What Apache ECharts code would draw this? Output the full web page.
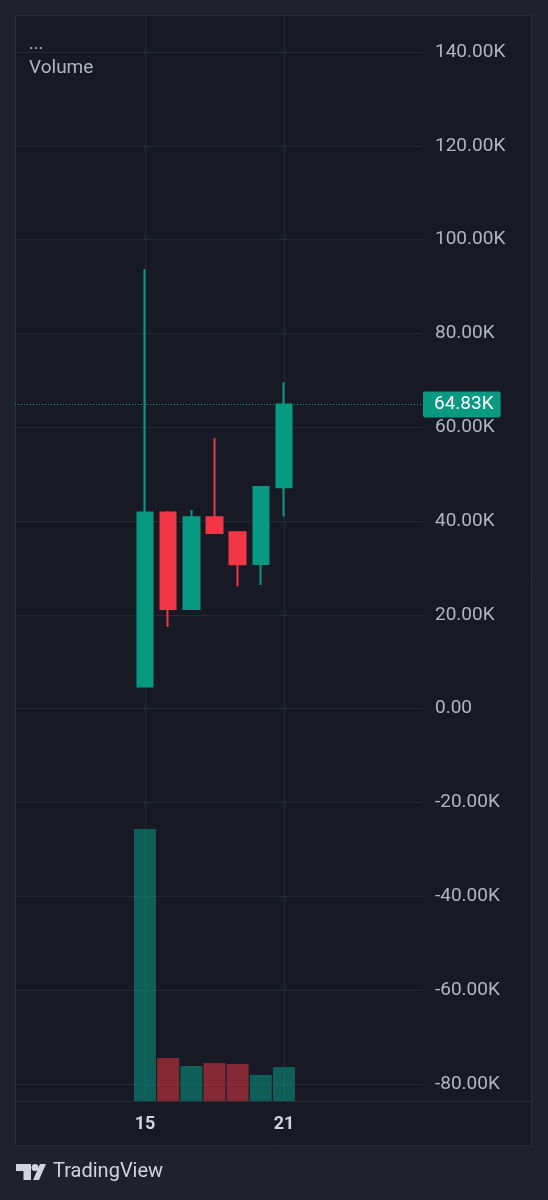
<!DOCTYPE html>
<html>
<head>
<meta charset="utf-8">
<script src="https://cdn.jsdelivr.net/npm/echarts@6/dist/echarts.min.js"></script>
<style>
  html, body { margin: 0; padding: 0; background: #1f222d; }
  #chart { width: 548px; height: 1200px; }
</style>
</head>
<body>
<div id="chart"></div>
<script>
// days of the month for each candle
const days = [15, 16, 17, 18, 19, 20, 21]
// OHLC in thousands
const opens  = [4.75, 41.85, 21.25, 40.8, 37.6, 30.85, 47.2]
const closes = [41.85, 21.25, 40.8, 37.45, 30.8, 47.25, 64.83]
const lows   = [4.75, 17.4, 21.25, 37.45, 26.1, 26.4, 41.0]
const highs  = [93.7, 42.15, 42.35, 57.7, 37.6, 47.25, 69.6]
// volume (arbitrary units)
const volumes = [27.2, 4.3, 3.5, 3.8, 3.7, 2.6, 3.4]
const timeLabels = [15, 21]
const lastPrice = 64.83

const UP = '#089981'
const DOWN = '#f23645'
const UP_VOL = 'rgba(8,153,129,0.55)'
const DOWN_VOL = 'rgba(242,54,69,0.5)'
const FONT = 'Roboto, "Noto Sans", sans-serif'

const candleData = days.map((d, i) => [d, opens[i], closes[i], lows[i], highs[i]])
const volumeData = days.map((d, i) => ({
  value: [d, volumes[i]],
  itemStyle: { color: closes[i] >= opens[i] ? UP_VOL : DOWN_VOL },
}))

const chart = echarts.init(document.getElementById('chart'), null, { renderer: 'canvas' })

chart.setOption({
  backgroundColor: '#1f222d',
  animation: false,
  textStyle: { fontFamily: FONT },
  graphic: [
    {
      type: 'rect', z: -10, silent: true,
      shape: { x: 15.5, y: 15.5, width: 516, height: 1130 },
      style: { fill: '#171a24', stroke: '#2a2e39', lineWidth: 1 },
    },
    {
      type: 'line', z: 1, silent: true,
      shape: { x1: 15, y1: 1101.5, x2: 532, y2: 1101.5 },
      style: { stroke: '#2a2e39', lineWidth: 1 },
    },
    {
      type: 'text', left: 29, top: 35,
      style: { text: '...', fill: '#b2b5be', font: '18px ' + FONT },
    },
    {
      type: 'text', left: 29, top: 59,
      style: { text: 'Volume', fill: '#b2b5be', font: '19px ' + FONT },
    },
    // TradingView logo
    {
      type: 'group', left: 16, top: 1164,
      children: [
        { type: 'rect', shape: { x: 0, y: 0, width: 15, height: 7 }, style: { fill: '#d1d4dc' } },
        { type: 'rect', shape: { x: 7.5, y: 0, width: 7.5, height: 16 }, style: { fill: '#d1d4dc' } },
        { type: 'circle', shape: { cx: 19, cy: 3.5, r: 3.5 }, style: { fill: '#d1d4dc' } },
        { type: 'polygon', shape: { points: [[24, 0], [30, 0], [23, 16], [17, 16]] }, style: { fill: '#d1d4dc' } },
      ],
    },
    {
      type: 'text', left: 53, top: 1162,
      style: { text: 'TradingView', fill: '#d1d4dc', font: '20px ' + FONT },
    },
  ],
  grid: [
    { left: 15, right: 125, top: 52, bottom: 116 },
    { left: 15, right: 125, top: 15, bottom: 99 },
  ],
  xAxis: [
    {
      type: 'value', gridIndex: 0, min: 9.39, max: 27.0,
      axisLine: { show: false }, axisTick: { show: false },
      axisLabel: { show: false }, splitLine: { show: false },
    },
    {
      type: 'value', gridIndex: 1, min: 9.39, max: 27.0,
      axisLine: { show: false },
      axisTick: { show: false, customValues: timeLabels },
      axisLabel: {
        customValues: timeLabels,
        color: '#d1d4dc', fontSize: 18, fontWeight: 'bold', margin: 14,
      },
      splitLine: { show: true, lineStyle: { color: '#252934', width: 1 } },
    },
  ],
  yAxis: [
    {
      type: 'value', gridIndex: 0, position: 'right',
      min: -80, max: 140, interval: 20,
      axisLine: { show: false }, axisTick: { show: false },
      axisLabel: {
        color: '#b2b5be', fontSize: 19, align: 'left', margin: 12,
        padding: [5, 0, 0, 0],
        formatter: (v) => v === 0 ? '0.00' : v.toFixed(2) + 'K',
      },
      splitLine: { lineStyle: { color: '#252934', width: 1 } },
    },
    {
      type: 'value', gridIndex: 1, min: 0, max: 108.6, show: false,
      splitLine: { show: false },
    },
  ],
  series: [
    {
      type: 'bar',
      xAxisIndex: 1, yAxisIndex: 1,
      barWidth: 22,
      data: volumeData,
      z: 1,
    },
    {
      type: 'candlestick',
      xAxisIndex: 0, yAxisIndex: 0,
      barWidth: 16,
      encode: { x: 0, y: [1, 2, 3, 4] },
      data: candleData,
      z: 3,
      itemStyle: {
        color: UP, color0: DOWN,
        borderColor: UP, borderColor0: DOWN,
        borderWidth: 2,
      },
      markLine: {
        silent: true,
        symbol: 'none',
        lineStyle: { color: UP, type: [1, 2], width: 1 },
        label: {
          position: 'end',
          distance: 0,
          formatter: lastPrice.toFixed(2) + 'K',
          color: '#ffffff',
          fontSize: 19,
          backgroundColor: UP,
          borderRadius: 2,
          padding: [4, 7, 3, 11],
        },
        data: [{ yAxis: lastPrice }],
      },
    },
  ],
})
</script>
</body>
</html>
